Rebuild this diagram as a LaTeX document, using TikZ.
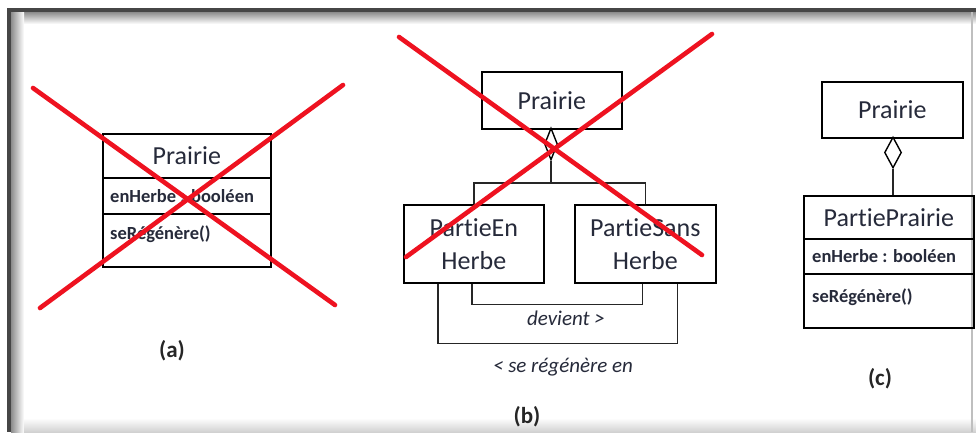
\documentclass[tikz,border=0pt]{standalone}
\usepackage{fontspec}
\setmainfont{Carlito}[Ligatures=NoCommon]
\usetikzlibrary{shapes.geometric,calc}
\definecolor{ink}{RGB}{38,42,58}
\definecolor{strike}{RGB}{238,18,32}
\definecolor{framedark}{RGB}{70,70,70}
\begin{document}
\begin{tikzpicture}[x=1pt,y=-1pt,
  box/.style={draw=black, line width=1.7pt, rectangle, inner sep=0pt,
              anchor=north west, text=ink, align=center,
              font=\fontsize{26}{33}\selectfont},
  member/.style={anchor=west, inner sep=0pt, text=ink,
                 font=\bfseries\fontsize{18.5}{21}\selectfont},
  link/.style={draw=black!85, line width=1.4pt},
  agg/.style={diamond, draw=black, line width=1.4pt, fill=white,
              inner sep=0pt, aspect=0.4},
  role/.style={text=ink, inner sep=0pt, font=\itshape\fontsize{21}{24}\selectfont},
  caption/.style={inner sep=0pt, text=black!85, font=\bfseries\fontsize{23}{26}\selectfont},
  cross/.style={draw=strike, line width=4.6pt, line cap=round}]
\useasboundingbox (0,0) rectangle (976,432);

% frame with inner shadow
\fill[white] (0,0) rectangle (976,432);
\shade[top color=black!45, bottom color=white] (11,12) rectangle (976,24);
\shade[left color=black!45, right color=white] (11,12) rectangle (24,432);
\shade[top color=white, bottom color=black!18] (24,418) rectangle (976,432);
\fill[black!25] (971,12) rectangle (973,432);
\fill[framedark] (7,8) rectangle (976,12);
\fill[framedark] (7,8) rectangle (11,432);

% (a) single class
\node[box, minimum width=168, minimum height=44] (aName) at (102,133) {Prairie};
\node[box, minimum width=168, minimum height=36] (aAttr) at (102,177) {};
\node[box, minimum width=168, minimum height=53] (aOps) at (102,213) {};
\node[member] (aAttrTxt) at ($(aAttr.west)+(8,0)$) {enHerbe : booléen};
\node[member] (aOpsTxt) at ($(aOps.north west)+(8,21)$) {seRégénère()};
\draw[cross] (33,88) -- (335,305);
\draw[cross] (343,85) -- (40,308);
\node[caption] (capA) at (172,351) {(a)};

% (b) specialisation
\node[box, minimum width=140, minimum height=57] (bTop) at (481,71) {Prairie};
\node[agg, minimum width=13, minimum height=32] (bDia) at (551,144) {};
\node[box, minimum width=140, minimum height=78] (bEn) at (403,204) {PartieEn\\Herbe};
\node[box, minimum width=141, minimum height=78] (bSans) at (574,204) {PartieSans\\Herbe};
\coordinate (bJ) at (551,183);
\draw[link] (bDia.south) -- (bJ);
\draw[link] (bEn.north) |- (bJ) -| (bSans.north);
\draw[link] ($(bEn.south)+(-2,0)$) -- ++(0,21) -| ($(bSans.south)+(-3,0)$);
\draw[link] ($(bEn.south west)+(35,0)$) -- ++(0,60) -| ($(bSans.south east)+(-39,0)$);
\node[role] (devient) at (566,318) {devient >};
\node[role] (regen) at (563,367) {< se régénère en};
\draw[cross] (399,37) -- (702,255);
\draw[cross] (712,34) -- (406,257);
\node[caption] (capB) at (527,417) {(b)};

% (c) aggregation of parts
\node[box, minimum width=141, minimum height=56] (cTop) at (821,81) {Prairie};
\node[agg, minimum width=17, minimum height=31] (cDia) at (893,152.5) {};
\node[box, minimum width=170, minimum height=43] (cName) at (803,195) {PartiePrairie};
\node[box, minimum width=170, minimum height=35] (cAttr) at (803,238) {};
\node[box, minimum width=170, minimum height=54] (cOps) at (803,273) {};
\node[member] (cAttrTxt) at ($(cAttr.west)+(9,0)$) {enHerbe : booléen};
\node[member] (cOpsTxt) at ($(cOps.north west)+(9,24)$) {seRégénère()};
\draw[link] (cDia.south) -- (cName.north -| cDia.south);
\node[caption] (capC) at (880,379) {(c)};
\end{tikzpicture}
\end{document}
